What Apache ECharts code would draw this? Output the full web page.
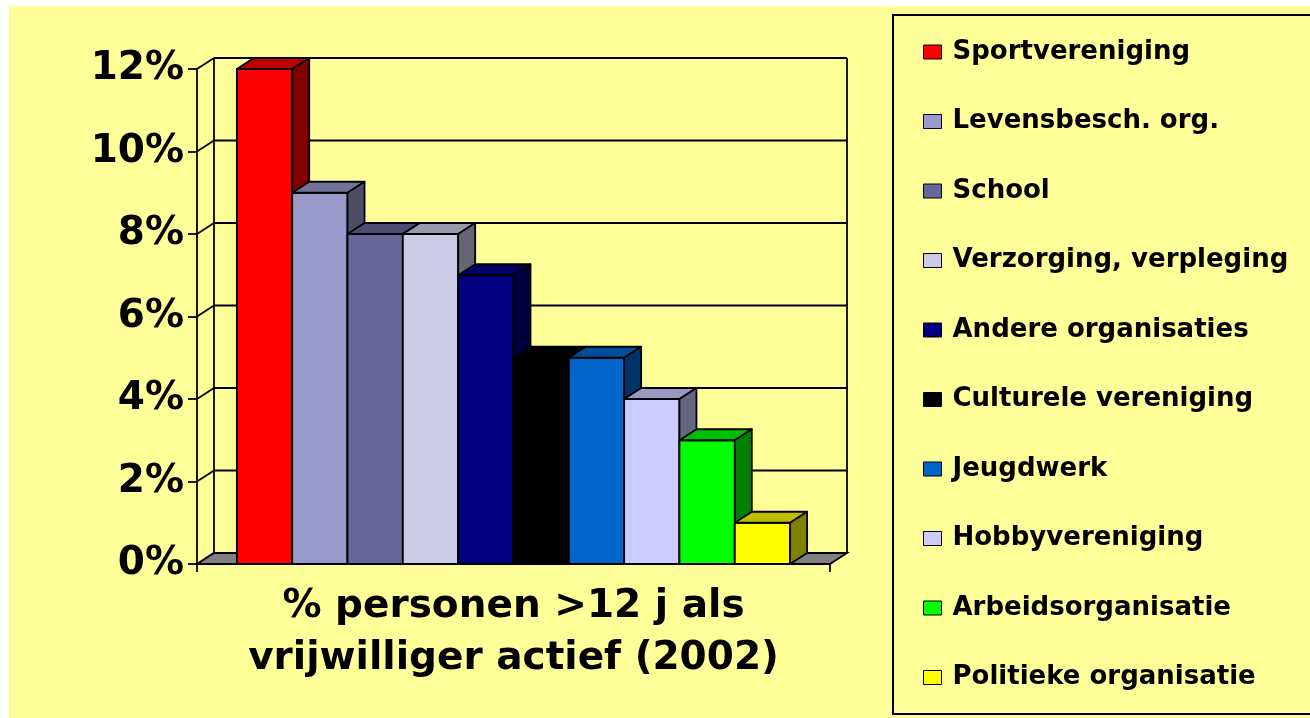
<!DOCTYPE html>
<html>
<head>
<meta charset="utf-8">
<script src="https://cdn.jsdelivr.net/npm/echarts@6/dist/echarts.min.js"></script>
<style>
html,body{margin:0;padding:0;background:#fff;}
#chart{width:1310px;height:718px;}
</style>
</head>
<body>
<div id="chart"></div>
<script>
// ---- data ----
const categories = ['% personen >12 j als\nvrijwilliger actief (2002)'];
const seriesNames = ['Sportvereniging', 'Levensbesch. org.', 'School', 'Verzorging, verpleging',
  'Andere organisaties', 'Culturele vereniging', 'Jeugdwerk', 'Hobbyvereniging',
  'Arbeidsorganisatie', 'Politieke organisatie'];
const values = [12, 9, 8, 8, 7, 5, 5, 4, 3, 1];
const yTicks = [0, 2, 4, 6, 8, 10, 12];

// ---- style ----
const colors = ['#FF0000', '#9999CC', '#666699', '#CCCCE6', '#000080',
  '#000000', '#0066CC', '#CCCCFF', '#00FF00', '#FFFF00'];
const BAR_FRAC = 0.0874;   // bar width as a fraction of the category band
const DX = 17, DY = -11;   // 3D depth offset
const LW = 1.8;
const FONT = 'DejaVu Sans';

function shade(hex, f) {
  const n = parseInt(hex.slice(1), 16);
  const r = Math.round(((n >> 16) & 255) * f);
  const g = Math.round(((n >> 8) & 255) * f);
  const b = Math.round((n & 255) * f);
  return 'rgb(' + r + ',' + g + ',' + b + ')';
}

const chart = echarts.init(document.getElementById('chart'));

function bandEdges(api) {
  const c = api.coord([0, 0]);
  const band = api.size([1, 0])[0];
  return { xl: c[0] - band / 2, xr: c[0] + band / 2, band: band };
}

// back wall grid lines + left wall diagonals
const wallSeries = {
  type: 'custom', name: '_wall', silent: true, clip: false, z: 1,
  data: yTicks.map(t => [0, t]),
  renderItem: function (params, api) {
    const e = bandEdges(api);
    const y = api.coord([0, api.value(1)])[1];
    return {
      type: 'group', children: [
        { type: 'line', shape: { x1: e.xl + DX, y1: y + DY, x2: e.xr + DX, y2: y + DY }, style: { stroke: '#000', lineWidth: LW } },
        { type: 'line', shape: { x1: e.xl, y1: y, x2: e.xl + DX, y2: y + DY }, style: { stroke: '#000', lineWidth: LW } }
      ]
    };
  }
};

// floor + back verticals
const floorSeries = {
  type: 'custom', name: '_floor', silent: true, clip: false, z: 1,
  data: [[0, yTicks[0], yTicks[yTicks.length - 1]]],
  renderItem: function (params, api) {
    const e = bandEdges(api);
    const y0 = api.coord([0, api.value(1)])[1];
    const y1 = api.coord([0, api.value(2)])[1];
    return {
      type: 'group', children: [
        { type: 'line', shape: { x1: e.xl + DX, y1: y0 + DY, x2: e.xl + DX, y2: y1 + DY }, style: { stroke: '#000', lineWidth: LW } },
        { type: 'line', shape: { x1: e.xr + DX, y1: y0 + DY, x2: e.xr + DX, y2: y1 + DY }, style: { stroke: '#000', lineWidth: LW } },
        { type: 'polygon', shape: { points: [[e.xl, y0], [e.xr, y0], [e.xr + DX, y0 + DY], [e.xl + DX, y0 + DY]] },
          style: { fill: '#808080', stroke: '#000', lineWidth: LW } }
      ]
    };
  }
};

const barSeries = seriesNames.map(function (name, i) {
  return {
    type: 'custom', name: name, clip: false, z: 2,
    itemStyle: { color: colors[i] },
    data: [[0, values[i]]],
    renderItem: function (params, api) {
      const e = bandEdges(api);
      const bw = e.band * BAR_FRAC;
      const cx = (e.xl + e.xr) / 2;
      const x = cx - bw * seriesNames.length / 2 + i * bw;
      const yt = api.coord([0, api.value(1)])[1];
      const yb = api.coord([0, 0])[1];
      const st = { stroke: '#000', lineWidth: LW, lineJoin: 'round' };
      return {
        type: 'group', children: [
          { type: 'polygon', shape: { points: [[x, yb], [x + bw, yb], [x + bw, yt], [x, yt]] }, style: Object.assign({ fill: colors[i] }, st) },
          { type: 'polygon', shape: { points: [[x, yt], [x + bw, yt], [x + bw + DX, yt + DY], [x + DX, yt + DY]] }, style: Object.assign({ fill: shade(colors[i], 0.75) }, st) },
          { type: 'polygon', shape: { points: [[x + bw, yb], [x + bw + DX, yb + DY], [x + bw + DX, yt + DY], [x + bw, yt]] }, style: Object.assign({ fill: shade(colors[i], 0.5) }, st) }
        ]
      };
    }
  };
});

chart.setOption({
  backgroundColor: '#ffffff',
  animation: false,
  graphic: [
    { type: 'rect', z: -10, silent: true, shape: { x: 9, y: 6, width: 1301, height: 712 }, style: { fill: '#FFFF99' } },
    { type: 'rect', z: -9, silent: true, shape: { x: 893, y: 15, width: 440, height: 699 }, style: { fill: 'none', stroke: '#000', lineWidth: 2 } }
  ],
  grid: { left: 197, right: 480, top: 69, bottom: 154, containLabel: false },
  xAxis: {
    type: 'category', data: categories, boundaryGap: true,
    axisLine: { show: true, lineStyle: { color: '#000', width: LW } },
    axisTick: { show: true, length: 8, lineStyle: { color: '#000', width: LW } },
    axisLabel: { interval: 0, margin: 17, color: '#000', fontFamily: FONT, fontWeight: 'bold', fontSize: 39, lineHeight: 52, align: 'center' },
    splitLine: { show: false }
  },
  yAxis: {
    type: 'value', min: 0, max: 12, interval: 2,
    axisLine: { show: true, lineStyle: { color: '#000', width: LW } },
    axisTick: { show: true, length: 9, lineStyle: { color: '#000', width: LW } },
    axisLabel: { margin: 13, color: '#000', fontFamily: FONT, fontWeight: 'bold', fontSize: 39, formatter: '{value}%' },
    splitLine: { show: false }
  },
  legend: {
    orient: 'vertical', left: 923, top: 37, padding: 0,
    itemWidth: 18, itemHeight: 14, itemGap: 39.5, icon: 'rect', selectedMode: false,
    itemStyle: { borderColor: '#000', borderWidth: 1 },
    textStyle: { fontFamily: FONT, fontWeight: 'bold', fontSize: 26, color: '#000', lineHeight: 30, padding: [0, 0, 0, 6] },
    data: seriesNames
  },
  series: [wallSeries, floorSeries].concat(barSeries)
});
</script>
</body>
</html>
